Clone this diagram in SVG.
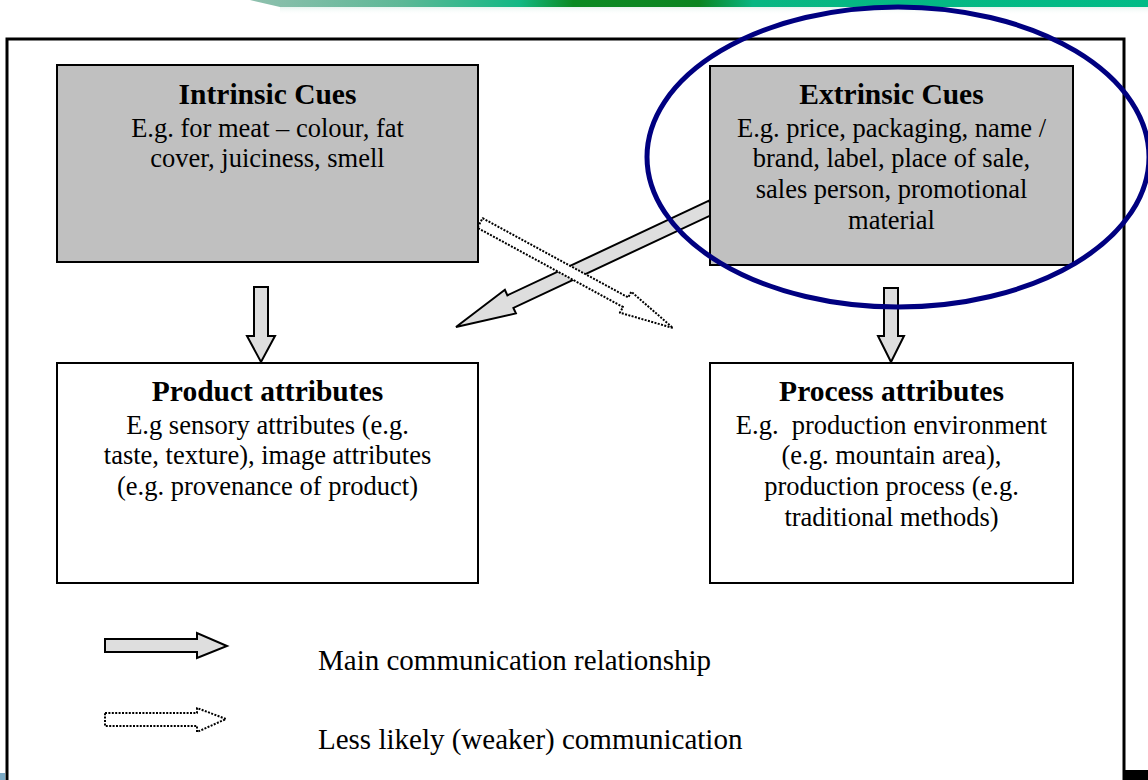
<svg xmlns="http://www.w3.org/2000/svg" width="1148" height="780" viewBox="0 0 1148 780">
<defs>
<linearGradient id="band" x1="0" y1="0" x2="1" y2="0">
<stop offset="0" stop-color="#8fc0ae"/>
<stop offset="0.17" stop-color="#5cb896"/>
<stop offset="0.3" stop-color="#12b884"/>
<stop offset="0.36" stop-color="#0a8a22"/>
<stop offset="0.5" stop-color="#0a8420"/>
<stop offset="0.56" stop-color="#08b682"/>
<stop offset="1" stop-color="#00bb86"/>
</linearGradient>
<linearGradient id="fade" x1="0" y1="0" x2="0" y2="1">
<stop offset="0" stop-color="#e6f4ef"/>
<stop offset="1" stop-color="#ffffff" stop-opacity="0"/>
</linearGradient>
</defs>
<style>
.box{stroke:#000;stroke-width:2}
.cue{fill:#c0c0c0}
.attr{fill:#fff}
.solid{fill:#dedede;stroke:#000;stroke-width:2;stroke-linejoin:miter}
.dot{fill:#fff;stroke:#000;stroke-width:2;stroke-dasharray:2 1.4;stroke-linejoin:round}
.t{font-family:"Liberation Serif","Times New Roman",serif;font-size:26.5px;fill:#000;text-anchor:middle}
.h{font-family:"Liberation Serif","Times New Roman",serif;font-size:29.5px;font-weight:bold;fill:#000;text-anchor:middle}
.lg{font-family:"Liberation Serif","Times New Roman",serif;font-size:29px;fill:#000}
</style>
<rect width="1148" height="780" fill="#fff"/>
<!-- top banner -->
<polygon points="250,0 1148,0 1148,7 280,7" fill="url(#band)"/>
<rect x="280" y="7" width="868" height="8" fill="url(#fade)"/>
<!-- outer frame -->
<path d="M7,780 V39 H1124 V780" fill="none" stroke="#000" stroke-width="3"/>
<rect x="1125" y="770" width="23" height="10" fill="#000"/>
<rect x="0" y="773" width="5" height="7" fill="#7aa9c4"/>
<!-- connectors -->
<g id="connectors">
<polygon class="solid" points="709,200.7 507.4,295.3 504.9,289.8 456,327 515.9,313.4 513.4,307.9 715,213.3"/>
<polygon class="dot" points="482.6,218.2 628.2,297.4 631.3,291.7 673,328 619.9,312.7 623,307 477.4,227.8"/>
<polygon class="solid" points="254,287 268,287 268,336 275,336 261,362 247,336 254,336"/>
<polygon class="solid" points="884,288 898,288 898,336 904,336 891,362 878,336 884,336"/>
</g>
<g id="intrinsic">
<rect class="box cue" x="57" y="65" width="421" height="197"/>
<text class="h" x="267.5" y="104">Intrinsic Cues</text>
<text class="t" x="267.5" y="137">E.g. for meat – colour, fat</text>
<text class="t" x="267.5" y="167">cover, juiciness, smell</text>
</g>
<g id="extrinsic">
<rect class="box cue" x="710" y="66" width="363" height="199"/>
<text class="h" x="891.5" y="104">Extrinsic Cues</text>
<text class="t" x="891.5" y="137">E.g. price, packaging, name /</text>
<text class="t" x="891.5" y="167">brand, label, place of sale,</text>
<text class="t" x="891.5" y="198">sales person, promotional</text>
<text class="t" x="891.5" y="229">material</text>
</g>
<g id="product">
<rect class="box attr" x="57" y="363" width="421" height="220"/>
<text class="h" x="267.5" y="401">Product attributes</text>
<text class="t" x="267.5" y="434">E.g sensory attributes (e.g.</text>
<text class="t" x="267.5" y="464">taste, texture), image attributes</text>
<text class="t" x="267.5" y="495">(e.g. provenance of product)</text>
</g>
<g id="process">
<rect class="box attr" x="710" y="363" width="363" height="220"/>
<text class="h" x="891.5" y="401">Process attributes</text>
<text class="t" x="891.5" y="434" xml:space="preserve">E.g.  production environment</text>
<text class="t" x="891.5" y="464">(e.g. mountain area),</text>
<text class="t" x="891.5" y="495">production process (e.g.</text>
<text class="t" x="891.5" y="526">traditional methods)</text>
</g>
<g id="highlight">
<ellipse cx="898" cy="157" rx="251" ry="150" fill="none" stroke="#000080" stroke-width="5"/>
</g>
<g id="legend">
<polygon class="solid" points="105,639 197,639 197,633 227,646 197,658 197,652 105,652"/>
<polygon class="dot" points="105,713 197,713 197,708 226,719 197,732 197,726 105,726"/>
<text class="lg" x="318" y="670">Main communication relationship</text>
<text class="lg" x="318" y="749">Less likely (weaker) communication</text>
</g>
</svg>
